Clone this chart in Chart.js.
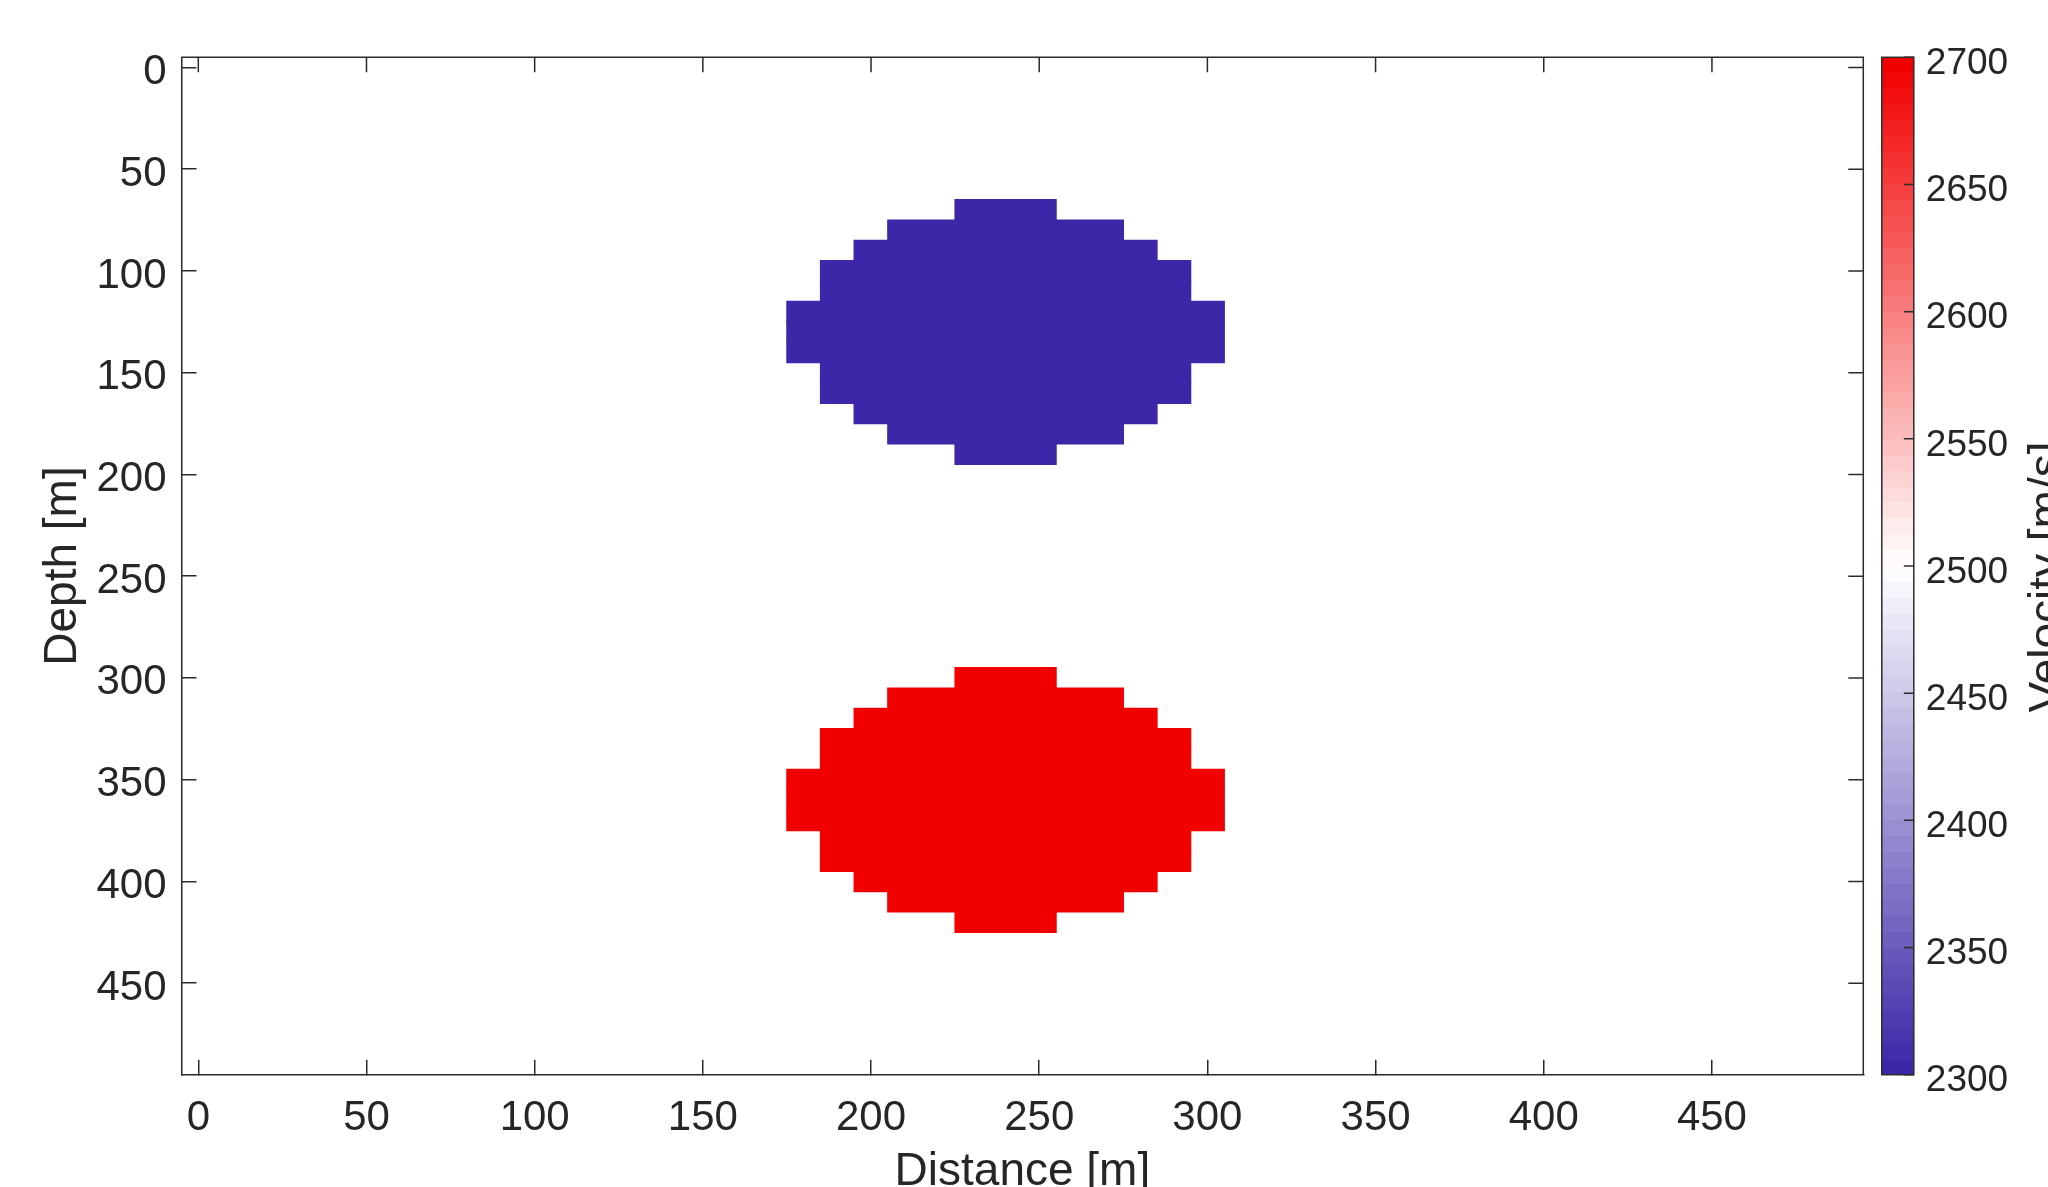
<!DOCTYPE html>
<html>
<head>
<meta charset="utf-8">
<script src="https://cdn.jsdelivr.net/npm/chart.js@4.4.1/dist/chart.umd.min.js"></script>
<style>
  html, body { margin: 0; padding: 0; background: #ffffff; overflow: hidden; }
  #wrap { position: relative; width: 2048px; height: 1187px; }
</style>
</head>
<body>
<div id="wrap"><canvas id="c" width="2048" height="1187"></canvas></div>
<script>
// ---------------- data ----------------
const xTicks  = [0, 50, 100, 150, 200, 250, 300, 350, 400, 450];
const yTicks  = [0, 50, 100, 150, 200, 250, 300, 350, 400, 450];
const cbTicks = [2300, 2350, 2400, 2450, 2500, 2550, 2600, 2650, 2700];

// model grid: 10 m cells, centres 0..490 m
const cellSize = 10;
const gridMin = -5, gridMax = 495;

// low-velocity body: depth of each cell row, first and last cell centre along distance
const lowDepth = [70, 80, 90, 100, 110, 120, 130, 140, 150, 160, 170, 180, 190];
const lowFrom  = [230, 210, 200, 190, 190, 180, 180, 180, 190, 190, 200, 210, 230];
const lowTo    = [250, 270, 280, 290, 290, 300, 300, 300, 290, 290, 280, 270, 250];
const lowVelocity = 2300;

// high-velocity body
const highDepth = [300, 310, 320, 330, 340, 350, 360, 370, 380, 390, 400, 410, 420];
const highFrom  = [230, 210, 200, 190, 190, 180, 180, 180, 190, 190, 200, 210, 230];
const highTo    = [250, 270, 280, 290, 290, 300, 300, 300, 290, 290, 280, 270, 250];
const highVelocity = 2700;

const backgroundVelocity = 2500;
const velMin = 2300, velMax = 2700;

// ---------------- colour map (blue - white - red, 64 levels) ----------------
const cmapLow  = [61, 39, 168];
const cmapMid  = [255, 255, 255];
const cmapHigh = [242, 0, 0];
const cmapLevels = 64;
function levelColor(k) {
  const t = k / (cmapLevels - 1);
  let a, b, s;
  if (t < 0.5) { a = cmapLow; b = cmapMid; s = t / 0.5; }
  else { a = cmapMid; b = cmapHigh; s = (t - 0.5) / 0.5; }
  const c = a.map((v, i) => Math.round(v + (b[i] - v) * s));
  return `rgb(${c[0]},${c[1]},${c[2]})`;
}
function velocityColor(v) {
  let k = Math.floor((v - velMin) / (velMax - velMin) * cmapLevels);
  k = Math.max(0, Math.min(cmapLevels - 1, k));
  return levelColor(k);
}

function rowsToBars(depth, from, to) {
  return depth.map((d, i) => ({ y: d, x: [from[i] - cellSize / 2, to[i] + cellSize / 2] }));
}

// ---------------- styling ----------------
const FONT = "'Liberation Sans', Arial, Helvetica, sans-serif";
const TEXT = '#262626';
const AXIS = '#2b2b2b';
const AXW = 1.5;
const TICK_LEN = 15;

const CANVAS_W = 2048, CANVAS_H = 1187;
const AREA = { left: 181.5, top: 57.3, right: 1863.3, bottom: 1074.7 };
const CB = { gap: 18.5, width: 32, tickLen: 10 };

function noPadding(s) {
  s.paddingTop = 0; s.paddingBottom = 0; s.paddingLeft = 0; s.paddingRight = 0;
}

// ---------------- plugin: mirror ticks, box, colorbar ----------------
const extras = {
  id: 'extras',
  afterDraw(chart) {
    const ctx = chart.ctx;
    const a = chart.chartArea;
    const xs = chart.scales.x, ys = chart.scales.y, cb = chart.scales.cb;
    ctx.save();
    ctx.strokeStyle = AXIS;
    ctx.lineWidth = AXW;
    // top and right border
    ctx.beginPath();
    ctx.moveTo(a.left, a.top); ctx.lineTo(a.right, a.top); ctx.lineTo(a.right, a.bottom);
    ctx.stroke();
    // mirrored ticks
    ctx.beginPath();
    xs.ticks.forEach(t => {
      const px = xs.getPixelForValue(t.value);
      ctx.moveTo(px, a.top); ctx.lineTo(px, a.top + TICK_LEN);
    });
    ys.ticks.forEach(t => {
      const py = ys.getPixelForValue(t.value);
      ctx.moveTo(a.right, py); ctx.lineTo(a.right - TICK_LEN, py);
    });
    ctx.stroke();

    // colorbar
    const cx0 = a.right + CB.gap, cx1 = cx0 + CB.width;
    const step = (velMax - velMin) / cmapLevels;
    for (let k = 0; k < cmapLevels; k++) {
      const y0 = Math.round(cb.getPixelForValue(velMin + (k + 1) * step));
      const y1 = Math.round(cb.getPixelForValue(velMin + k * step));
      ctx.fillStyle = levelColor(k);
      ctx.fillRect(cx0, y0, CB.width, y1 - y0);
    }
    ctx.strokeStyle = AXIS;
    ctx.lineWidth = AXW;
    const ct = cb.getPixelForValue(velMax), cbot = cb.getPixelForValue(velMin);
    ctx.strokeRect(cx0, ct, CB.width, cbot - ct);
    ctx.beginPath();
    cb.ticks.forEach(t => {
      const py = cb.getPixelForValue(t.value);
      ctx.moveTo(cx1, py); ctx.lineTo(cx1 - CB.tickLen, py);
    });
    ctx.stroke();

    // colorbar label
    ctx.fillStyle = TEXT;
    ctx.font = `46px ${FONT}`;
    ctx.textAlign = 'center';
    ctx.textBaseline = 'alphabetic';
    ctx.translate(2061, 577);
    ctx.rotate(-Math.PI / 2);
    ctx.fillText('Velocity [m/s]', 0, 0);
    ctx.restore();
  }
};

Chart.defaults.font.family = FONT;
Chart.defaults.color = TEXT;

const barStyle = {
  borderWidth: 0,
  grouped: false,
  barPercentage: 1,
  categoryPercentage: 1,
  inflateAmount: 0.7
};

new Chart(document.getElementById('c'), {
  type: 'bar',
  data: {
    datasets: [
      Object.assign({
        label: 'low velocity',
        data: rowsToBars(lowDepth, lowFrom, lowTo),
        backgroundColor: velocityColor(lowVelocity)
      }, barStyle),
      Object.assign({
        label: 'high velocity',
        data: rowsToBars(highDepth, highFrom, highTo),
        backgroundColor: velocityColor(highVelocity)
      }, barStyle)
    ]
  },
  options: {
    indexAxis: 'y',
    responsive: false,
    animation: false,
    events: [],
    layout: { padding: { top: AREA.top, left: 0, right: 0, bottom: 0 } },
    plugins: { legend: { display: false }, tooltip: { enabled: false }, title: { display: false } },
    scales: {
      x: {
        type: 'linear',
        position: 'bottom',
        min: gridMin, max: gridMax,
        offset: false,
        afterBuildTicks: s => { s.ticks = xTicks.map(v => ({ value: v })); },
        afterFit: s => { s.height = CANVAS_H - AREA.bottom; noPadding(s); },
        ticks: { font: { size: 42 }, color: TEXT, padding: 33.5, maxRotation: 0, autoSkip: false,
                 callback: v => String(v) },
        grid: { offset: false, drawOnChartArea: false, drawTicks: true, tickLength: -TICK_LEN, color: AXIS, lineWidth: AXW },
        border: { display: true, color: AXIS, width: AXW },
        title: { display: true, text: 'Distance [m]', color: TEXT, font: { size: 46, lineHeight: 1.2 }, padding: { top: 0, bottom: -12.6 } }
      },
      y: {
        type: 'linear',
        position: 'left',
        reverse: true,
        min: gridMin, max: gridMax,
        offset: false,
        afterBuildTicks: s => { s.ticks = yTicks.map(v => ({ value: v })); },
        afterFit: s => { s.width = AREA.left; noPadding(s); },
        ticks: { font: { size: 42 }, color: TEXT, padding: 30, labelOffset: 5, autoSkip: false,
                 callback: v => String(v) },
        grid: { offset: false, drawOnChartArea: false, drawTicks: true, tickLength: -TICK_LEN, color: AXIS, lineWidth: AXW },
        border: { display: true, color: AXIS, width: AXW },
        title: { display: true, text: 'Depth [m]', color: TEXT, font: { size: 46, lineHeight: 1.2 }, padding: { top: 36.1, bottom: 0 } }
      },
      cb: {
        type: 'linear',
        axis: 'y',
        position: 'right',
        min: velMin, max: velMax,
        offset: false,
        afterBuildTicks: s => { s.ticks = cbTicks.map(v => ({ value: v })); },
        afterFit: s => { s.width = CANVAS_W - AREA.right; noPadding(s); },
        ticks: { font: { size: 37 }, color: TEXT, padding: 62.5, labelOffset: 6.5, autoSkip: false,
                 callback: v => String(v) },
        grid: { display: false, offset: false, drawTicks: false, drawOnChartArea: false },
        border: { display: false }
      }
    }
  },
  plugins: [extras]
});
</script>
</body>
</html>
